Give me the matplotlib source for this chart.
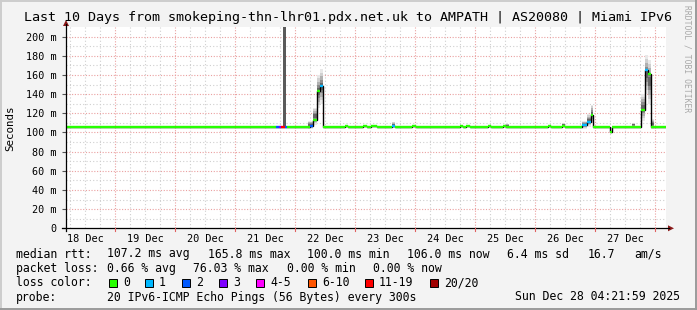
import matplotlib
matplotlib.use("Agg")
import matplotlib.pyplot as plt
from matplotlib.lines import Line2D
from matplotlib.patches import Polygon, Rectangle

# hours since 2025-12-18 00:00, graph ends Sun Dec 28 04:21:59
t_start = 4.37
t_end = 244.37

# median rtt, one value per step segment (ms), and lost pings of 20
seg_start = [4.4, 88.4, 89.6, 90.4, 92.0, 92.8, 102.0, 103.2, 104.8, 106.0,
             107.2, 116.0, 117.2, 123.2, 124.8, 126.4, 128.8, 134.8, 136.0, 142.8,
             144.4, 162.0, 163.2, 164.4, 166.0, 173.2, 174.4, 179.2, 180.4, 197.2,
             198.4, 202.8, 204.0, 210.8, 212.8, 214.4, 215.2, 222.0, 222.8, 234.4,
             236.0, 237.2, 238.4]
median_ms = [106, 106, 106, 106, 106, 106, 107, 113, 143, 148,
             106, 107, 106, 107, 106, 107, 106, 107, 106, 107,
             106, 107, 106, 107, 106, 107, 106, 107, 106, 107,
             106, 107, 106, 107.5, 111, 118, 106, 100, 106, 123.5,
             165.5, 160.5, 106]
loss = [0, 2, 3, 15, 2, 0, 2, 0, 0, 1,
        0, 0, 0, 0, 0, 0, 0, 1, 0, 0,
        0, 0, 0, 0, 0, 0, 0, 0, 0, 0,
        0, 0, 0, 1, 1, 0, 0, 0, 0, 0,
        1, 0, 0]

# smoke (spread of the 20 pings)
smoke_start = [101.2, 103.2, 104.8, 106.0, 134.8, 180.4, 202.8, 210.8, 212.8, 214.4,
               230.8, 234.4, 236.0, 237.2, 238.4]
smoke_end = [103.2, 104.8, 106.0, 107.2, 136.0, 181.6, 204.0, 212.8, 214.4, 215.2,
             232.0, 236.0, 237.2, 238.4, 239.6]
smoke_lo = [104, 108, 125, 130, 105, 106, 106, 104, 106, 110, 106, 112, 140, 130, 104]
smoke_hi = [112, 126, 160, 166, 111, 109, 110, 112, 119, 129, 110, 140, 181, 176, 114]

# single outlier column on 21 Dec
bar_start, bar_end, bar_lo, bar_hi = 91.2, 92.4, 106, 260

day_labels = ["18 Dec", "19 Dec", "20 Dec", "21 Dec", "22 Dec",
              "23 Dec", "24 Dec", "25 Dec", "26 Dec", "27 Dec"]
y_ticks = [0, 20, 40, 60, 80, 100, 120, 140, 160, 180, 200]

loss_names = ["0", "1", "2", "3", "4-5", "6-10", "11-19", "20/20"]
loss_colors = ["#26ff00", "#00b8ff", "#0059ff", "#7e00ff",
               "#ff00ff", "#ff5500", "#ff0000", "#a10000"]


def loss_color(n):
    if n == 0:
        return loss_colors[0]
    if n <= 3:
        return loss_colors[n]
    if n <= 5:
        return loss_colors[4]
    if n <= 10:
        return loss_colors[5]
    if n <= 19:
        return loss_colors[6]
    return loss_colors[7]


W, H = 697, 310
mono = "DejaVu Sans Mono"


def fx(x):
    return x / W


def fy(y):
    return 1 - y / H


fig = plt.figure(figsize=(W / 100, H / 100), dpi=100, facecolor="#f3f3f3")

left, right, top, bottom = 66, 666, 27, 228.3
ax = fig.add_axes([fx(left), fy(bottom), (right - left) / W, (bottom - top) / H])
ax.set_facecolor("white")
ax.set_xlim(t_start, t_end)
ax.set_ylim(0, 210)

# grid
for h in range(6, 246, 6):
    if h % 24:
        ax.axvline(h, color="#cfcfcf", lw=0.8, ls=(0, (1, 2)), zorder=0)
for v in range(10, 210, 20):
    ax.axhline(v, color="#cfcfcf", lw=0.8, ls=(0, (1, 2)), zorder=0)
for h in range(24, 246, 24):
    ax.axvline(h, color="#eaa0a0", lw=0.8, ls=(0, (1, 1.5)), zorder=0)
for v in y_ticks[1:]:
    ax.axhline(v, color="#eaa0a0", lw=0.8, ls=(0, (1, 1.5)), zorder=0)

# smoke
shades = ["#e8e8e8", "#d0d0d0", "#b0b0b0", "#8c8c8c", "#666666"]
seg_end = seg_start[1:] + [t_end]
for s0, s1, lo, hi in zip(smoke_start, smoke_end, smoke_lo, smoke_hi):
    mid = (lo + hi) / 2
    for i, c in enumerate(shades):
        f = 1 - i / len(shades)
        ax.fill_between([s0, s1], mid - (mid - lo) * f, mid + (hi - mid) * f,
                        color=c, lw=0, zorder=1)
ax.fill_between([bar_start, bar_end], bar_lo, bar_hi, color="#5a5a5a", lw=0, zorder=1)

# median line: black joints, coloured segments by loss
edges = seg_start + [t_end]
ax.stairs(median_ms, edges, baseline=None, color="black", lw=1, zorder=2)
ax.hlines(median_ms, seg_start, seg_end, colors=[loss_color(n) for n in loss],
          lw=1.7, capstyle="butt", zorder=3)

# ticks
ax.set_xticks([24 * i + 12 for i in range(len(day_labels))])
ax.set_xticklabels(day_labels, family=mono, fontsize=7.4)
ax.set_yticks(y_ticks)
ax.set_yticklabels(["0"] + ["%d m" % v for v in y_ticks[1:]], family=mono, fontsize=7.3)
ax.tick_params(axis="x", length=0, pad=4)
ax.tick_params(axis="y", length=3, width=0.8, color="#555555", pad=4)
for sp in ax.spines.values():
    sp.set_visible(False)

# axes with arrows
fig.add_artist(Line2D([fx(62), fx(669)], [fy(bottom), fy(bottom)], color="black", lw=0.9))
fig.add_artist(Line2D([fx(left), fx(left)], [fy(bottom + 3), fy(24)], color="black", lw=0.9))
fig.add_artist(Polygon([(fx(668), fy(bottom - 3)), (fx(668), fy(bottom + 3)),
                        (fx(674), fy(bottom))], closed=True, color="#8b1a1a", lw=0))
fig.add_artist(Polygon([(fx(left - 3), fy(26)), (fx(left + 3), fy(26)),
                        (fx(left), fy(20))], closed=True, color="#8b1a1a", lw=0))
for h in range(24, 246, 24):
    xp = left + (h - t_start) * 2.5
    fig.add_artist(Line2D([fx(xp), fx(xp)], [fy(bottom), fy(bottom + 2.5)],
                          color="#e06060", lw=0.8))

# texts
fig.text(fx(348), fy(18), "Last 10 Days from smokeping-thn-lhr01.pdx.net.uk to AMPATH | AS20080 | Miami IPv6",
         ha="center", va="center", family=mono, fontsize=9.6)
fig.text(fx(10), fy(128), "Seconds", rotation=90, ha="center", va="center",
         family=mono, fontsize=7.8)
fig.text(fx(687), fy(5), "RRDTOOL / TOBI OETIKER", rotation=270, ha="center", va="top",
         family=mono, fontsize=5.8, color="#a8a8a8")

lg = 8.3
rows = [
    (254, [(16, "median rtt:"), (107, "107.2 ms avg"), (208, "165.8 ms max"),
           (307, "100.0 ms min"), (407, "106.0 ms now"), (507, "6.4 ms sd"),
           (588, "16.7"), (634, "am/s")]),
    (268.5, [(16, "packet loss:"), (107, "0.66 % avg"), (193, "76.03 % max"),
             (287, "0.00 % min"), (373, "0.00 % now")]),
    (297, [(16, "probe:"), (107, "20 IPv6-ICMP Echo Pings (56 Bytes) every 300s")]),
]
for yy, items in rows:
    for xx, s in items:
        fig.text(fx(xx), fy(yy), s, ha="left", va="center", family=mono, fontsize=lg)
fig.text(fx(680), fy(297), "Sun Dec 28 04:21:59 2025", ha="right", va="center",
         family=mono, fontsize=lg)

fig.text(fx(16), fy(283), "loss color:", ha="left", va="center", family=mono, fontsize=lg)
box_x = [109, 145, 182, 219, 256, 308, 365, 430]
for bx, name, c in zip(box_x, loss_names, loss_colors):
    fig.add_artist(Rectangle((fx(bx), fy(287)), 8 / W, 8 / H, facecolor=c,
                             edgecolor="black", lw=0.7))
    fig.text(fx(bx + 14), fy(283), name, ha="left", va="center", family=mono, fontsize=lg)

# frame
fig.add_artist(Line2D([0, 1], [fy(0.7), fy(0.7)], color="#cccccc", lw=1.4))
fig.add_artist(Line2D([fx(0.7), fx(0.7)], [0, 1], color="#cccccc", lw=1.4))
fig.add_artist(Line2D([0, 1], [fy(H - 0.7), fy(H - 0.7)], color="#9a9a9a", lw=1.4))
fig.add_artist(Line2D([fx(W - 0.7), fx(W - 0.7)], [0, 1], color="#9a9a9a", lw=1.4))

fig.savefig("out.png", dpi=100, facecolor=fig.get_facecolor())
